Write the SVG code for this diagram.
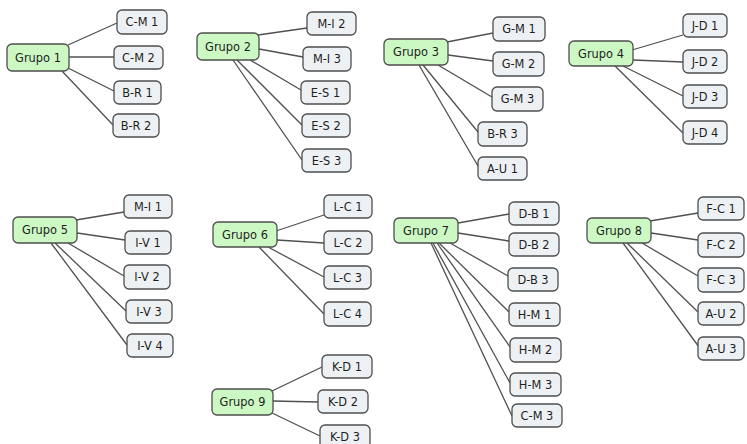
<svg xmlns="http://www.w3.org/2000/svg" width="747" height="444" viewBox="0 0 747 444">
  <style>
    .bg { fill: #ffffff; }
    .links line { stroke: #505050; stroke-width: 1.3; }
    .grp rect { fill: #ccf8c4; stroke: #4e4e4e; stroke-width: 1.3; }
    .item rect { fill: #edf1f4; stroke: #4e4e4e; stroke-width: 1.3; }
    text { font-family: "DejaVu Sans", Verdana, sans-serif; font-size: 11.4px; fill: #1e1e1e; text-anchor: middle; }
  </style>
  <rect class="bg" x="0" y="0" width="747" height="444"/>

  <!-- connectors -->
  <g class="links" id="connectors">
    <!-- Grupo 1 -->
    <line x1="68" y1="45" x2="117" y2="23"/>
    <line x1="69" y1="57" x2="114" y2="57"/>
    <line x1="68" y1="68" x2="114" y2="91"/>
    <line x1="62" y1="71" x2="113" y2="125"/>
    <!-- Grupo 2 -->
    <line x1="258" y1="35" x2="307" y2="28"/>
    <line x1="259" y1="49" x2="303" y2="57"/>
    <line x1="250" y1="60" x2="301" y2="90"/>
    <line x1="237" y1="60" x2="302" y2="125"/>
    <line x1="233" y1="60" x2="302" y2="160"/>
    <!-- Grupo 3 -->
    <line x1="447" y1="42" x2="493" y2="33"/>
    <line x1="448" y1="55" x2="493" y2="61"/>
    <line x1="438" y1="65" x2="492" y2="97"/>
    <line x1="423" y1="65" x2="478" y2="132"/>
    <line x1="419" y1="65" x2="478" y2="166"/>
    <!-- Grupo 4 -->
    <line x1="632" y1="50" x2="683" y2="35"/>
    <line x1="633" y1="60" x2="683" y2="62"/>
    <line x1="623" y1="66" x2="683" y2="96"/>
    <line x1="615" y1="66" x2="683" y2="133"/>
    <!-- Grupo 5 -->
    <line x1="76" y1="220" x2="124" y2="212"/>
    <line x1="77" y1="233" x2="125" y2="240"/>
    <line x1="68" y1="243" x2="124" y2="276"/>
    <line x1="55" y1="243" x2="126" y2="311"/>
    <line x1="51" y1="243" x2="127" y2="345"/>
    <!-- Grupo 6 -->
    <line x1="276" y1="231" x2="324" y2="215"/>
    <line x1="277" y1="240" x2="324" y2="243"/>
    <line x1="268" y1="247" x2="324" y2="277"/>
    <line x1="259" y1="247" x2="324" y2="314"/>
    <!-- Grupo 7 -->
    <line x1="458" y1="223" x2="509" y2="214"/>
    <line x1="458" y1="233" x2="509" y2="241"/>
    <line x1="450" y1="243" x2="508" y2="276"/>
    <line x1="439" y1="243" x2="509" y2="312"/>
    <line x1="437" y1="243" x2="510" y2="347"/>
    <line x1="433" y1="243" x2="510" y2="383"/>
    <line x1="431" y1="243" x2="512" y2="416"/>
    <!-- Grupo 8 -->
    <line x1="650" y1="221" x2="698" y2="213"/>
    <line x1="651" y1="233" x2="698" y2="240"/>
    <line x1="642" y1="243" x2="698" y2="276"/>
    <line x1="627" y1="243" x2="698" y2="312"/>
    <line x1="623" y1="243" x2="699" y2="347"/>
    <!-- Grupo 9 -->
    <line x1="272" y1="391" x2="322" y2="367"/>
    <line x1="273" y1="401" x2="318" y2="402"/>
    <line x1="272" y1="413" x2="320" y2="436"/>
  </g>

  <!-- group nodes -->
  <g class="grp" id="grupo-1"><rect x="7" y="44" width="62" height="27" rx="5"/><text x="38" y="61.5">Grupo 1</text></g>
  <g class="grp" id="grupo-2"><rect x="197" y="33" width="62" height="27" rx="5"/><text x="228" y="50.5">Grupo 2</text></g>
  <g class="grp" id="grupo-3"><rect x="384" y="39" width="64" height="26" rx="5"/><text x="416" y="56">Grupo 3</text></g>
  <g class="grp" id="grupo-4"><rect x="569" y="41" width="64" height="25" rx="5"/><text x="601" y="57.5">Grupo 4</text></g>
  <g class="grp" id="grupo-5"><rect x="13" y="217" width="64" height="26" rx="5"/><text x="45" y="234">Grupo 5</text></g>
  <g class="grp" id="grupo-6"><rect x="213" y="222" width="64" height="25" rx="5"/><text x="245" y="238.5">Grupo 6</text></g>
  <g class="grp" id="grupo-7"><rect x="394" y="218" width="64" height="25" rx="5"/><text x="426" y="234.5">Grupo 7</text></g>
  <g class="grp" id="grupo-8"><rect x="587" y="218" width="64" height="25" rx="5"/><text x="619" y="234.5">Grupo 8</text></g>
  <g class="grp" id="grupo-9"><rect x="212" y="389" width="61" height="26" rx="5"/><text x="242.5" y="406">Grupo 9</text></g>

  <!-- item nodes: Grupo 1 -->
  <g class="item" id="cm1"><rect x="117" y="10" width="50" height="24" rx="5"/><text x="142" y="26">C-M 1</text></g>
  <g class="item" id="cm2"><rect x="114" y="46" width="49" height="23" rx="5"/><text x="138.5" y="61.5">C-M 2</text></g>
  <g class="item" id="br1"><rect x="114" y="81" width="47" height="23" rx="5"/><text x="137.5" y="96.5">B-R 1</text></g>
  <g class="item" id="br2"><rect x="113" y="114" width="46" height="23" rx="5"/><text x="136" y="129.5">B-R 2</text></g>

  <!-- item nodes: Grupo 2 -->
  <g class="item" id="mi2"><rect x="307" y="12" width="49" height="23" rx="5"/><text x="331.5" y="27.5">M-I 2</text></g>
  <g class="item" id="mi3"><rect x="303" y="47" width="48" height="24" rx="5"/><text x="327" y="63">M-I 3</text></g>
  <g class="item" id="es1"><rect x="301" y="81" width="49" height="23" rx="5"/><text x="325.5" y="96.5">E-S 1</text></g>
  <g class="item" id="es2"><rect x="302" y="114" width="48" height="23" rx="5"/><text x="326" y="129.5">E-S 2</text></g>
  <g class="item" id="es3"><rect x="302" y="149" width="49" height="23" rx="5"/><text x="326.5" y="164.5">E-S 3</text></g>

  <!-- item nodes: Grupo 3 -->
  <g class="item" id="gm1"><rect x="493" y="17" width="52" height="24" rx="5"/><text x="519" y="33">G-M 1</text></g>
  <g class="item" id="gm2"><rect x="493" y="52" width="51" height="24" rx="5"/><text x="518.5" y="68">G-M 2</text></g>
  <g class="item" id="gm3"><rect x="492" y="87" width="51" height="24" rx="5"/><text x="517.5" y="103">G-M 3</text></g>
  <g class="item" id="br3"><rect x="478" y="122" width="49" height="24" rx="5"/><text x="502.5" y="138">B-R 3</text></g>
  <g class="item" id="au1"><rect x="478" y="157" width="49" height="23" rx="5"/><text x="502.5" y="172.5">A-U 1</text></g>

  <!-- item nodes: Grupo 4 -->
  <g class="item" id="jd1"><rect x="683" y="14" width="44" height="23" rx="5"/><text x="705" y="29.5">J-D 1</text></g>
  <g class="item" id="jd2"><rect x="683" y="50" width="44" height="23" rx="5"/><text x="705" y="65.5">J-D 2</text></g>
  <g class="item" id="jd3"><rect x="683" y="85" width="44" height="23" rx="5"/><text x="705" y="100.5">J-D 3</text></g>
  <g class="item" id="jd4"><rect x="683" y="121" width="44" height="23" rx="5"/><text x="705" y="136.5">J-D 4</text></g>

  <!-- item nodes: Grupo 5 -->
  <g class="item" id="mi1"><rect x="124" y="195" width="48" height="23" rx="5"/><text x="148" y="210.5">M-I 1</text></g>
  <g class="item" id="iv1"><rect x="125" y="231" width="46" height="23" rx="5"/><text x="148" y="246.5">I-V 1</text></g>
  <g class="item" id="iv2"><rect x="124" y="265" width="46" height="24" rx="5"/><text x="147" y="281">I-V 2</text></g>
  <g class="item" id="iv3"><rect x="126" y="300" width="46" height="23" rx="5"/><text x="149" y="315.5">I-V 3</text></g>
  <g class="item" id="iv4"><rect x="127" y="334" width="46" height="23" rx="5"/><text x="150" y="349.5">I-V 4</text></g>

  <!-- item nodes: Grupo 6 -->
  <g class="item" id="lc1"><rect x="324" y="195" width="48" height="23" rx="5"/><text x="348" y="210.5">L-C 1</text></g>
  <g class="item" id="lc2"><rect x="324" y="231" width="48" height="23" rx="5"/><text x="348" y="246.5">L-C 2</text></g>
  <g class="item" id="lc3"><rect x="324" y="266" width="47" height="23" rx="5"/><text x="347.5" y="281.5">L-C 3</text></g>
  <g class="item" id="lc4"><rect x="324" y="302" width="47" height="24" rx="5"/><text x="347.5" y="318">L-C 4</text></g>

  <!-- item nodes: Grupo 7 -->
  <g class="item" id="db1"><rect x="509" y="202" width="50" height="23" rx="5"/><text x="534" y="217.5">D-B 1</text></g>
  <g class="item" id="db2"><rect x="509" y="233" width="50" height="23" rx="5"/><text x="534" y="248.5">D-B 2</text></g>
  <g class="item" id="db3"><rect x="508" y="268" width="50" height="23" rx="5"/><text x="533" y="283.5">D-B 3</text></g>
  <g class="item" id="hm1"><rect x="509" y="303" width="51" height="23" rx="5"/><text x="534.5" y="318.5">H-M 1</text></g>
  <g class="item" id="hm2"><rect x="510" y="338" width="51" height="24" rx="5"/><text x="535.5" y="354">H-M 2</text></g>
  <g class="item" id="hm3"><rect x="510" y="373" width="51" height="23" rx="5"/><text x="535.5" y="388.5">H-M 3</text></g>
  <g class="item" id="cm3"><rect x="512" y="404" width="50" height="23" rx="5"/><text x="537" y="419.5">C-M 3</text></g>

  <!-- item nodes: Grupo 8 -->
  <g class="item" id="fc1"><rect x="698" y="197" width="46" height="23" rx="5"/><text x="721" y="212.5">F-C 1</text></g>
  <g class="item" id="fc2"><rect x="698" y="233" width="46" height="24" rx="5"/><text x="721" y="249">F-C 2</text></g>
  <g class="item" id="fc3"><rect x="698" y="268" width="46" height="24" rx="5"/><text x="721" y="284">F-C 3</text></g>
  <g class="item" id="au2"><rect x="698" y="302" width="46" height="23" rx="5"/><text x="721" y="317.5">A-U 2</text></g>
  <g class="item" id="au3"><rect x="698" y="337" width="46" height="23" rx="5"/><text x="721" y="352.5">A-U 3</text></g>

  <!-- item nodes: Grupo 9 -->
  <g class="item" id="kd1"><rect x="322" y="355" width="50" height="23" rx="5"/><text x="347" y="370.5">K-D 1</text></g>
  <g class="item" id="kd2"><rect x="318" y="390" width="50" height="23" rx="5"/><text x="343" y="405.5">K-D 2</text></g>
  <g class="item" id="kd3"><rect x="320" y="425" width="50" height="23" rx="5"/><text x="345" y="440.5">K-D 3</text></g>
</svg>
